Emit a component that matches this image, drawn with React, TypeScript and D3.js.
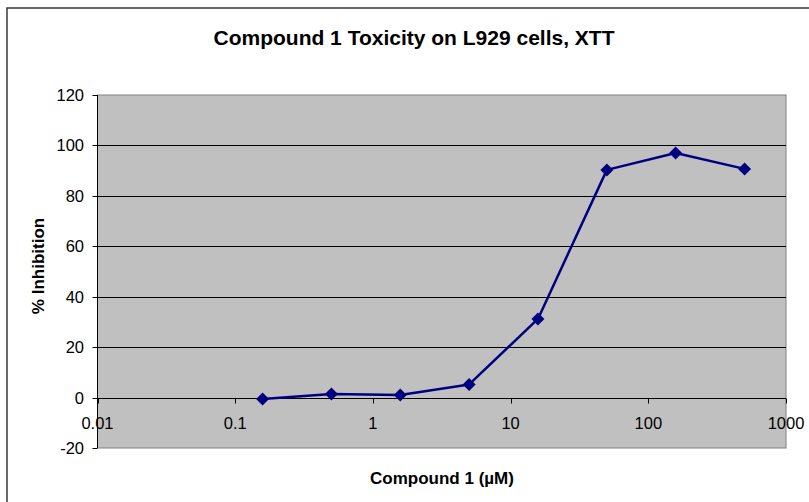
import { scaleLinear, scaleLog, line } from "d3";

// data
const concentrations = [0.158, 0.5, 1.58, 5, 15.8, 50, 158, 500];
const inhibition = [-0.6, 1.4, 1.0, 5.2, 31.2, 90.3, 97.0, 90.7];
const xTicks = [0.01, 0.1, 1, 10, 100, 1000];
const xTickLabels = ["0.01", "0.1", "1", "10", "100", "1000"];
const yTicks = [-20, 0, 20, 40, 60, 80, 100, 120];

const W = 809;
const H = 502;
const plot = { left: 97.5, right: 786, top: 95, bottom: 448 };
const font = "'Liberation Sans', Arial, Helvetica, sans-serif";

function App() {
    const x = scaleLog().domain([0.01, 1000]).range([plot.left, plot.right]);
    const y = scaleLinear().domain([-20, 120]).range([plot.bottom, plot.top]);

    const pts = concentrations.map((c, i) => [x(c), y(inhibition[i])] as [number, number]);
    const path = line()(pts) || "";
    const y0 = Math.round(y(0)) + 0.5;

    return (
        <svg width={W} height={H} style={{ display: "block", position: "absolute", left: 0, top: 0 }}>
            <rect x={0} y={0} width={W} height={H} fill="#fff" />
            {/* outer chart frame */}
            <rect x={7} y={8} width={W + 50} height={H + 50} fill="none" stroke="#3a3a3a" strokeWidth={1.5} />

            <text x={414} y={45} textAnchor="middle" fontFamily={font} fontWeight="bold" fontSize={21}>
                Compound 1 Toxicity on L929 cells, XTT
            </text>

            {/* plot area */}
            <rect
                x={plot.left}
                y={plot.top}
                width={plot.right - plot.left}
                height={plot.bottom - plot.top}
                fill="#c0c0c0"
                stroke="#808080"
                strokeWidth={1}
            />

            {/* gridlines */}
            {yTicks
                .filter((t) => t !== -20 && t !== 120)
                .map((t) => (
                    <line
                        key={"g" + t}
                        x1={plot.left}
                        x2={plot.right}
                        y1={Math.round(y(t)) + 0.5}
                        y2={Math.round(y(t)) + 0.5}
                        stroke="#000"
                        strokeWidth={1}
                    />
                ))}

            {/* y axis */}
            <line x1={plot.left} x2={plot.left} y1={plot.top} y2={plot.bottom} stroke="#000" />
            {yTicks.map((t) => (
                <g key={"y" + t}>
                    <line
                        x1={plot.left - 5}
                        x2={plot.left}
                        y1={Math.round(y(t)) + 0.5}
                        y2={Math.round(y(t)) + 0.5}
                        stroke="#000"
                    />
                    <text
                        x={84}
                        y={y(t) + 6}
                        textAnchor="end"
                        fontFamily={font}
                        fontSize={16.5}
                    >
                        {t}
                    </text>
                </g>
            ))}

            {/* x axis at y = 0 */}
            <line x1={plot.left} x2={plot.right} y1={y0} y2={y0} stroke="#000" />
            {xTicks.map((t, i) => (
                <g key={"x" + t}>
                    <line x1={Math.round(x(t)) + 0.5} x2={Math.round(x(t)) + 0.5} y1={y0} y2={y0 + 5} stroke="#000" />
                    <text x={x(t)} y={429} textAnchor="middle" fontFamily={font} fontSize={16.5}>
                        {xTickLabels[i]}
                    </text>
                </g>
            ))}

            {/* series */}
            <path d={path} fill="none" stroke="#000080" strokeWidth={2.5} strokeLinejoin="round" />
            {pts.map(([px, py], i) => (
                <path
                    key={"m" + i}
                    d={`M${px},${py - 6.5}L${px + 6.5},${py}L${px},${py + 6.5}L${px - 6.5},${py}Z`}
                    fill="#000080"
                />
            ))}

            {/* axis titles */}
            <text x={442} y={484} textAnchor="middle" fontFamily={font} fontWeight="bold" fontSize={17}>
                Compound 1 (µM)
            </text>
            <text
                transform={`translate(44,266) rotate(-90)`}
                textAnchor="middle"
                fontFamily={font}
                fontWeight="bold"
                fontSize={17}
            >
                % Inhibition
            </text>
        </svg>
    );
}

export default App;
